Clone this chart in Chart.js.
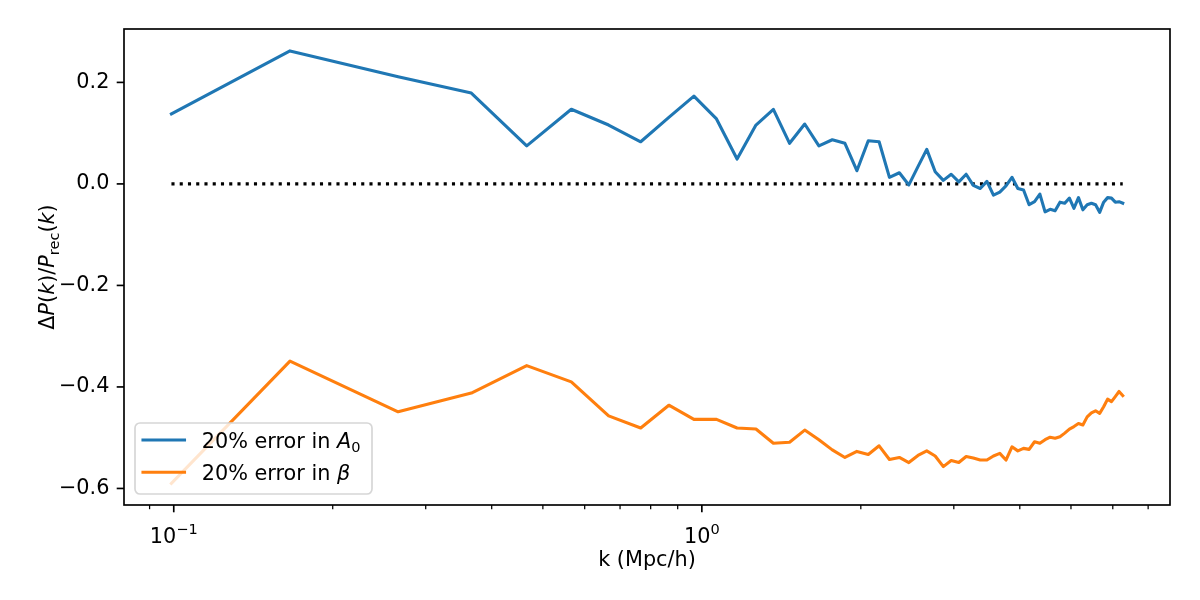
<!DOCTYPE html>
<html>
<head>
<meta charset="utf-8">
<script src="https://cdn.jsdelivr.net/npm/chart.js@4/dist/chart.umd.min.js"></script>
<style>
  html, body { margin: 0; padding: 0; background: #fff; }
  #wrap { width: 1200px; height: 600px; }
</style>
</head>
<body>
<div id="wrap"><canvas id="chart" width="1200" height="600"></canvas></div>
<script>
// k bins (Mpc/h)
const kVals = [
  0.099, 0.166, 0.266, 0.366, 0.466, 0.566, 0.666, 0.766, 0.866, 0.966,
  1.066, 1.166, 1.266, 1.366, 1.466, 1.566, 1.666, 1.766, 1.866, 1.966,
  2.066, 2.166, 2.266, 2.366, 2.466, 2.566, 2.666, 2.766, 2.866, 2.966,
  3.066, 3.166, 3.266, 3.366, 3.466, 3.566, 3.666, 3.766, 3.866, 3.966,
  4.066, 4.166, 4.266, 4.366, 4.466, 4.566, 4.666, 4.766, 4.866, 4.966,
  5.066, 5.166, 5.266, 5.366, 5.466, 5.566, 5.666, 5.766, 5.866, 5.966,
  6.066, 6.166, 6.266
];

// 20% error in A0
const errA0 = [
  0.138, 0.262, 0.211, 0.179, 0.075, 0.147, 0.116, 0.083, 0.131, 0.173,
  0.128, 0.049, 0.116, 0.147, 0.080, 0.118, 0.075, 0.087, 0.080, 0.026,
  0.085, 0.083, 0.013, 0.022, -0.002, 0.034, 0.068, 0.024, 0.007, 0.019,
  0.004, 0.019, -0.003, -0.009, 0.005, -0.022, -0.016, -0.004, 0.013, -0.009,
  -0.012, -0.041, -0.035, -0.020, -0.055, -0.050, -0.053, -0.036, -0.038, -0.028,
  -0.048, -0.027, -0.051, -0.041, -0.038, -0.041, -0.056, -0.036, -0.027, -0.028,
  -0.036, -0.035, -0.038
];

// 20% error in beta
const errBeta = [
  -0.590, -0.349, -0.449, -0.412, -0.358, -0.390, -0.457, -0.481, -0.436, -0.464,
  -0.464, -0.481, -0.483, -0.511, -0.509, -0.485, -0.504, -0.524, -0.539, -0.527,
  -0.533, -0.516, -0.543, -0.539, -0.549, -0.535, -0.526, -0.536, -0.557, -0.545,
  -0.549, -0.537, -0.540, -0.544, -0.544, -0.536, -0.531, -0.544, -0.518, -0.526,
  -0.521, -0.523, -0.508, -0.511, -0.504, -0.499, -0.501, -0.498, -0.491, -0.483,
  -0.478, -0.472, -0.475, -0.459, -0.451, -0.447, -0.452, -0.439, -0.424, -0.429,
  -0.419, -0.409, -0.417
];

const yTicks = [-0.6, -0.4, -0.2, 0.0, 0.2];
const xMajor = [0.1, 1];
const xMajorExp = ['\u22121', '0'];
const xMinor = [0.09, 0.2, 0.3, 0.4, 0.5, 0.6, 0.7, 0.8, 0.9, 2, 3, 4, 5, 6, 7];

const BLUE = '#1f77b4';
const ORANGE = '#ff7f0e';
const FONT = '"DejaVu Sans", sans-serif';
const FS = 20.8;

function pts(ys) {
  return kVals.map((k, i) => ({x: k, y: ys[i]}));
}

// draw runs of text with mixed styles, returns width
function runs(ctx, parts, x, y, measureOnly) {
  let cx = x;
  ctx.textAlign = 'left';
  for (const p of parts) {
    const size = p.sub ? FS * 0.7 : FS;
    ctx.font = (p.it ? 'italic ' : '') + size + 'px ' + FONT;
    const w = ctx.measureText(p.t).width;
    if (!measureOnly) ctx.fillText(p.t, cx, y + (p.sub ? FS * 0.22 : 0));
    cx += w;
  }
  return cx - x;
}

const decor = {
  id: 'decor',
  afterDraw(chart) {
    const ctx = chart.ctx;
    const a = chart.chartArea;
    const xs = chart.scales.x, ys = chart.scales.y;
    ctx.save();
    ctx.strokeStyle = '#000';
    ctx.fillStyle = '#000';

    // frame
    ctx.lineWidth = 1.67;
    ctx.strokeRect(a.left, a.top, a.right - a.left, a.bottom - a.top);

    // y ticks
    yTicks.forEach(v => {
      const py = ys.getPixelForValue(v);
      ctx.beginPath();
      ctx.moveTo(a.left - 7.3, py);
      ctx.lineTo(a.left, py);
      ctx.stroke();
    });

    // x ticks
    xMajor.forEach(v => {
      const px = xs.getPixelForValue(v);
      ctx.beginPath();
      ctx.moveTo(px, a.bottom);
      ctx.lineTo(px, a.bottom + 7.3);
      ctx.stroke();
    });
    ctx.lineWidth = 1.25;
    xMinor.forEach(v => {
      const px = xs.getPixelForValue(v);
      ctx.beginPath();
      ctx.moveTo(px, a.bottom);
      ctx.lineTo(px, a.bottom + 4.2);
      ctx.stroke();
    });

    // x tick labels 10^n
    ctx.textBaseline = 'alphabetic';
    ctx.textAlign = 'left';
    xMajor.forEach((v, i) => {
      const px = xs.getPixelForValue(v);
      ctx.font = FS + 'px ' + FONT;
      const w1 = ctx.measureText('10').width;
      ctx.font = (FS * 0.7) + 'px ' + FONT;
      const w2 = ctx.measureText(xMajorExp[i]).width;
      const x0 = px - (w1 + w2) / 2;
      const base = a.bottom + 38;
      ctx.font = FS + 'px ' + FONT;
      ctx.fillText('10', x0, base);
      ctx.font = (FS * 0.7) + 'px ' + FONT;
      ctx.fillText(xMajorExp[i], x0 + w1, base - 9);
    });

    // x label
    ctx.font = FS + 'px ' + FONT;
    ctx.textAlign = 'center';
    ctx.textBaseline = 'middle';
    ctx.fillText('k (Mpc/h)', (a.left + a.right) / 2, 561);

    // y label
    const yl = [
      {t: '\u0394'}, {t: 'P', it: true}, {t: '('}, {t: 'k', it: true}, {t: ')'},
      {t: '/'}, {t: 'P', it: true}, {t: 'rec', sub: true}, {t: '('},
      {t: 'k', it: true}, {t: ')'}
    ];
    ctx.save();
    ctx.translate(47, (a.top + a.bottom) / 2);
    ctx.rotate(-Math.PI / 2);
    ctx.textBaseline = 'alphabetic';
    const wl = runs(ctx, yl, 0, 0, true);
    runs(ctx, yl, -wl / 2, 7, false);
    ctx.restore();

    // legend
    const lx = 135, ly = 423, lw = 237, lh = 71, r = 5;
    ctx.beginPath();
    ctx.moveTo(lx + r, ly);
    ctx.arcTo(lx + lw, ly, lx + lw, ly + lh, r);
    ctx.arcTo(lx + lw, ly + lh, lx, ly + lh, r);
    ctx.arcTo(lx, ly + lh, lx, ly, r);
    ctx.arcTo(lx, ly, lx + lw, ly, r);
    ctx.closePath();
    ctx.fillStyle = 'rgba(255,255,255,0.8)';
    ctx.fill();
    ctx.strokeStyle = '#d6d6d6';
    ctx.lineWidth = 1.67;
    ctx.stroke();

    const entries = [
      {c: BLUE, y: 440, parts: [{t: '20% error in '}, {t: 'A', it: true}, {t: '0', sub: true}]},
      {c: ORANGE, y: 472.3, parts: [{t: '20% error in '}, {t: '\u03b2', it: true}]}
    ];
    entries.forEach(e => {
      ctx.strokeStyle = e.c;
      ctx.lineWidth = 3.1;
      ctx.lineCap = 'square';
      ctx.beginPath();
      ctx.moveTo(143, e.y);
      ctx.lineTo(184.5, e.y);
      ctx.stroke();
      ctx.fillStyle = '#000';
      ctx.textBaseline = 'alphabetic';
      runs(ctx, e.parts, 201.7, e.y + 7.5, false);
    });
    ctx.restore();
  }
};

const ctx = document.getElementById('chart').getContext('2d');
new Chart(ctx, {
  type: 'line',
  data: {
    datasets: [
      {
        label: '20% error in A0',
        data: pts(errA0),
        borderColor: BLUE,
        borderWidth: 3.1,
        borderJoinStyle: 'round',
        borderCapStyle: 'square',
        pointRadius: 0,
        tension: 0,
        fill: false
      },
      {
        label: '20% error in beta',
        data: pts(errBeta),
        borderColor: ORANGE,
        borderWidth: 3.1,
        borderJoinStyle: 'round',
        borderCapStyle: 'square',
        pointRadius: 0,
        tension: 0,
        fill: false
      },
      {
        label: 'zero',
        data: [{x: kVals[0], y: 0}, {x: kVals[kVals.length - 1], y: 0}],
        borderColor: '#000',
        borderWidth: 3.1,
        borderDash: [3.1, 5.15],
        borderCapStyle: 'butt',
        pointRadius: 0,
        fill: false
      }
    ]
  },
  options: {
    responsive: false,
    animation: false,
    devicePixelRatio: 1,
    layout: {padding: {top: 29, right: 30, left: 0, bottom: 0}},
    plugins: {legend: {display: false}, tooltip: {enabled: false}},
    scales: {
      x: {
        type: 'logarithmic',
        min: 0.0805,
        max: 7.7,
        grid: {display: false},
        border: {display: false},
        ticks: {display: false},
        afterFit: s => { s.height = 95; }
      },
      y: {
        type: 'linear',
        min: -0.6326,
        max: 0.3052,
        grid: {display: true, drawOnChartArea: false, drawTicks: true, tickLength: 7.3, color: 'rgba(0,0,0,0)'},
        border: {display: false},
        afterBuildTicks: s => { s.ticks = yTicks.map(v => ({value: v})); },
        afterFit: s => { s.width = 124; },
        ticks: {
          padding: 7.3,
          color: '#000',
          font: {family: FONT, size: FS},
          callback: v => v.toFixed(1).replace('-', '\u2212')
        }
      }
    }
  },
  plugins: [decor]
});
</script>
</body>
</html>
